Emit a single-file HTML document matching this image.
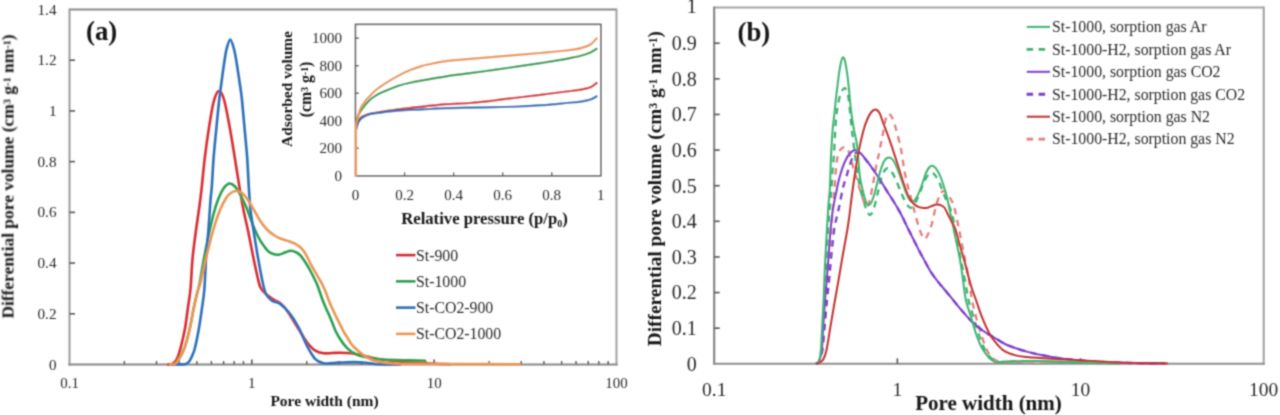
<!DOCTYPE html><html><head><meta charset="utf-8"><style>html,body{margin:0;padding:0;background:#fff;}svg{display:block;} text{stroke-width:0;}</style></head><body>
<svg width="1280" height="415" viewBox="0 0 1280 415">
<defs><filter id="bl" x="0" y="0" width="1280" height="415" filterUnits="userSpaceOnUse"><feConvolveMatrix order="3" kernelMatrix="0.04387 0.12171 0.04387 0.12171 0.33767 0.12171 0.04387 0.12171 0.04387" preserveAlpha="false"/></filter></defs>
<rect width="1280" height="415" fill="#fff"/>
<g filter="url(#bl)">
<path d="M69.5,9.5H616.5" stroke="#898989" stroke-width="2" fill="none"/>
<path d="M616.5,8.5V365.5" stroke="#a2a2a2" stroke-width="2" fill="none"/>
<path d="M69.5,8.5V365.5" stroke="#9c9c9c" stroke-width="2" fill="none"/>
<path d="M68.5,364.5H617.5" stroke="#888" stroke-width="2" fill="none"/>
<text x="56.5" y="369.60" text-anchor="end" font-family="Liberation Serif" font-size="15.2" fill="#2a2a2a" stroke="#2a2a2a">0</text>
<line x1="69.5" y1="313.79" x2="75.0" y2="313.79" stroke="#555" stroke-width="1.6"/>
<text x="56.5" y="318.89" text-anchor="end" font-family="Liberation Serif" font-size="15.2" fill="#2a2a2a" stroke="#2a2a2a">0.2</text>
<line x1="69.5" y1="263.07" x2="75.0" y2="263.07" stroke="#555" stroke-width="1.6"/>
<text x="56.5" y="268.17" text-anchor="end" font-family="Liberation Serif" font-size="15.2" fill="#2a2a2a" stroke="#2a2a2a">0.4</text>
<line x1="69.5" y1="212.36" x2="75.0" y2="212.36" stroke="#555" stroke-width="1.6"/>
<text x="56.5" y="217.46" text-anchor="end" font-family="Liberation Serif" font-size="15.2" fill="#2a2a2a" stroke="#2a2a2a">0.6</text>
<line x1="69.5" y1="161.64" x2="75.0" y2="161.64" stroke="#555" stroke-width="1.6"/>
<text x="56.5" y="166.74" text-anchor="end" font-family="Liberation Serif" font-size="15.2" fill="#2a2a2a" stroke="#2a2a2a">0.8</text>
<line x1="69.5" y1="110.93" x2="75.0" y2="110.93" stroke="#555" stroke-width="1.6"/>
<text x="56.5" y="116.03" text-anchor="end" font-family="Liberation Serif" font-size="15.2" fill="#2a2a2a" stroke="#2a2a2a">1</text>
<line x1="69.5" y1="60.21" x2="75.0" y2="60.21" stroke="#555" stroke-width="1.6"/>
<text x="56.5" y="65.31" text-anchor="end" font-family="Liberation Serif" font-size="15.2" fill="#2a2a2a" stroke="#2a2a2a">1.2</text>
<text x="56.5" y="14.60" text-anchor="end" font-family="Liberation Serif" font-size="15.2" fill="#2a2a2a" stroke="#2a2a2a">1.4</text>
<line x1="124.39" y1="364.5" x2="124.39" y2="361.0" stroke="#555" stroke-width="1.4"/>
<line x1="156.50" y1="364.5" x2="156.50" y2="361.0" stroke="#555" stroke-width="1.4"/>
<line x1="179.28" y1="364.5" x2="179.28" y2="361.0" stroke="#555" stroke-width="1.4"/>
<line x1="196.95" y1="364.5" x2="196.95" y2="361.0" stroke="#555" stroke-width="1.4"/>
<line x1="211.38" y1="364.5" x2="211.38" y2="361.0" stroke="#555" stroke-width="1.4"/>
<line x1="223.59" y1="364.5" x2="223.59" y2="361.0" stroke="#555" stroke-width="1.4"/>
<line x1="234.16" y1="364.5" x2="234.16" y2="361.0" stroke="#555" stroke-width="1.4"/>
<line x1="243.49" y1="364.5" x2="243.49" y2="361.0" stroke="#555" stroke-width="1.4"/>
<line x1="251.83" y1="364.5" x2="251.83" y2="359.5" stroke="#555" stroke-width="1.6"/>
<line x1="306.72" y1="364.5" x2="306.72" y2="361.0" stroke="#555" stroke-width="1.4"/>
<line x1="338.83" y1="364.5" x2="338.83" y2="361.0" stroke="#555" stroke-width="1.4"/>
<line x1="361.61" y1="364.5" x2="361.61" y2="361.0" stroke="#555" stroke-width="1.4"/>
<line x1="379.28" y1="364.5" x2="379.28" y2="361.0" stroke="#555" stroke-width="1.4"/>
<line x1="393.72" y1="364.5" x2="393.72" y2="361.0" stroke="#555" stroke-width="1.4"/>
<line x1="405.92" y1="364.5" x2="405.92" y2="361.0" stroke="#555" stroke-width="1.4"/>
<line x1="416.50" y1="364.5" x2="416.50" y2="361.0" stroke="#555" stroke-width="1.4"/>
<line x1="425.82" y1="364.5" x2="425.82" y2="361.0" stroke="#555" stroke-width="1.4"/>
<line x1="434.17" y1="364.5" x2="434.17" y2="359.5" stroke="#555" stroke-width="1.6"/>
<line x1="489.05" y1="364.5" x2="489.05" y2="361.0" stroke="#555" stroke-width="1.4"/>
<line x1="521.16" y1="364.5" x2="521.16" y2="361.0" stroke="#555" stroke-width="1.4"/>
<line x1="543.94" y1="364.5" x2="543.94" y2="361.0" stroke="#555" stroke-width="1.4"/>
<line x1="561.61" y1="364.5" x2="561.61" y2="361.0" stroke="#555" stroke-width="1.4"/>
<line x1="576.05" y1="364.5" x2="576.05" y2="361.0" stroke="#555" stroke-width="1.4"/>
<line x1="588.26" y1="364.5" x2="588.26" y2="361.0" stroke="#555" stroke-width="1.4"/>
<line x1="598.83" y1="364.5" x2="598.83" y2="361.0" stroke="#555" stroke-width="1.4"/>
<line x1="608.16" y1="364.5" x2="608.16" y2="361.0" stroke="#555" stroke-width="1.4"/>
<text x="69.50" y="388.2" text-anchor="middle" font-family="Liberation Serif" font-size="15" fill="#2a2a2a" stroke="#2a2a2a">0.1</text>
<text x="251.83" y="388.2" text-anchor="middle" font-family="Liberation Serif" font-size="15" fill="#2a2a2a" stroke="#2a2a2a">1</text>
<text x="434.17" y="388.2" text-anchor="middle" font-family="Liberation Serif" font-size="15" fill="#2a2a2a" stroke="#2a2a2a">10</text>
<text x="616.50" y="388.2" text-anchor="middle" font-family="Liberation Serif" font-size="15" fill="#2a2a2a" stroke="#2a2a2a">100</text>
<text x="324.5" y="405.5" text-anchor="middle" font-family="Liberation Serif" font-weight="bold" font-size="15.5" fill="#151515" stroke="#151515">Pore width (nm)</text>
<text transform="translate(13.5,176.5) rotate(-90)" text-anchor="middle" font-family="Liberation Serif" font-weight="bold" font-size="17.4" fill="#151515" stroke="#151515">Differential pore volume (cm<tspan baseline-shift="32%" font-size="60%">3</tspan> g<tspan baseline-shift="32%" font-size="60%">-1</tspan> nm<tspan baseline-shift="32%" font-size="60%">-1</tspan>)</text>
<text x="86" y="40" font-family="Liberation Serif" font-weight="bold" font-size="26.8" fill="#151515" stroke="#151515">(a)</text>
<path d="M168.00,364.50 C168.75,364.38 171.05,364.65 172.50,363.80 C173.95,362.95 175.35,362.07 176.70,359.40 C178.05,356.73 179.22,352.95 180.60,347.80 C181.98,342.65 183.82,334.92 185.00,328.50 C186.18,322.08 186.78,315.88 187.70,309.30 C188.62,302.72 189.68,297.58 190.50,289.00 C191.32,280.42 191.65,267.82 192.60,257.80 C193.55,247.78 195.03,237.70 196.20,228.90 C197.37,220.10 198.67,212.02 199.60,205.00 C200.53,197.98 200.93,194.67 201.80,186.80 C202.67,178.93 203.63,167.45 204.80,157.80 C205.97,148.15 207.33,138.20 208.80,128.90 C210.27,119.60 211.93,108.32 213.60,102.00 C215.27,95.68 217.07,91.42 218.80,91.00 C220.53,90.58 222.13,93.18 224.00,99.50 C225.87,105.82 228.20,119.18 230.00,128.90 C231.80,138.62 233.23,148.15 234.80,157.80 C236.37,167.45 237.95,178.10 239.40,186.80 C240.85,195.50 242.02,202.47 243.50,210.00 C244.98,217.53 246.65,224.03 248.30,232.00 C249.95,239.97 251.90,250.47 253.40,257.80 C254.90,265.13 256.12,271.05 257.30,276.00 C258.48,280.95 259.13,284.58 260.50,287.50 C261.87,290.42 263.92,291.92 265.50,293.50 C267.08,295.08 268.50,295.92 270.00,297.00 C271.50,298.08 272.83,299.00 274.50,300.00 C276.17,301.00 278.25,301.67 280.00,303.00 C281.75,304.33 283.33,305.97 285.00,308.00 C286.67,310.03 287.77,311.75 290.00,315.20 C292.23,318.65 295.58,324.20 298.40,328.70 C301.22,333.20 304.08,338.55 306.90,342.20 C309.72,345.85 312.48,348.77 315.30,350.60 C318.12,352.43 321.02,352.80 323.80,353.20 C326.58,353.60 329.20,353.08 332.00,353.00 C334.80,352.92 337.47,352.67 340.60,352.70 C343.73,352.73 347.42,352.83 350.80,353.20 C354.18,353.57 356.97,354.07 360.90,354.90 C364.83,355.73 369.33,357.22 374.40,358.20 C379.47,359.18 385.37,360.10 391.30,360.80 C397.23,361.50 403.55,361.95 410.00,362.40 C416.45,362.85 423.33,363.20 430.00,363.50 C436.67,363.80 446.67,364.08 450.00,364.20" fill="none" stroke="#d82c30" stroke-width="2.6" stroke-linejoin="round" stroke-linecap="round"/>
<path d="M170.00,364.50 C170.80,364.42 173.35,364.85 174.80,364.00 C176.25,363.15 177.08,362.10 178.70,359.40 C180.32,356.70 182.65,352.95 184.50,347.80 C186.35,342.65 188.30,334.92 189.80,328.50 C191.30,322.08 192.22,315.38 193.50,309.30 C194.78,303.22 196.50,296.22 197.50,292.00 C198.50,287.78 198.40,289.70 199.50,284.00 C200.60,278.30 202.60,265.80 204.10,257.80 C205.60,249.80 206.95,243.22 208.50,236.00 C210.05,228.78 211.77,220.67 213.40,214.50 C215.03,208.33 216.62,203.33 218.30,199.00 C219.98,194.67 221.67,191.08 223.50,188.50 C225.33,185.92 227.38,183.83 229.30,183.50 C231.22,183.17 233.13,184.58 235.00,186.50 C236.87,188.42 238.53,191.33 240.50,195.00 C242.47,198.67 244.67,203.33 246.80,208.50 C248.93,213.67 251.38,221.25 253.30,226.00 C255.22,230.75 256.68,233.87 258.30,237.00 C259.92,240.13 261.30,242.38 263.00,244.80 C264.70,247.22 266.67,249.92 268.50,251.50 C270.33,253.08 272.17,253.80 274.00,254.30 C275.83,254.80 277.67,254.80 279.50,254.50 C281.33,254.20 283.15,253.12 285.00,252.50 C286.85,251.88 288.77,250.85 290.60,250.80 C292.43,250.75 294.43,251.50 296.00,252.20 C297.57,252.90 298.75,253.78 300.00,255.00 C301.25,256.22 302.37,257.92 303.50,259.50 C304.63,261.08 305.63,262.58 306.80,264.50 C307.97,266.42 309.30,268.75 310.50,271.00 C311.70,273.25 312.92,275.78 314.00,278.00 C315.08,280.22 316.03,281.97 317.00,284.30 C317.97,286.63 318.90,289.47 319.80,292.00 C320.70,294.53 321.40,296.87 322.40,299.50 C323.40,302.13 324.63,305.10 325.80,307.80 C326.97,310.50 328.27,313.08 329.40,315.70 C330.53,318.32 331.55,320.90 332.60,323.50 C333.65,326.10 334.55,328.88 335.70,331.30 C336.85,333.72 338.20,335.90 339.50,338.00 C340.80,340.10 342.17,342.18 343.50,343.90 C344.83,345.62 346.20,347.00 347.50,348.30 C348.80,349.60 349.35,350.48 351.30,351.70 C353.25,352.92 356.08,354.55 359.20,355.60 C362.32,356.65 366.07,357.35 370.00,358.00 C373.93,358.65 376.13,359.10 382.80,359.50 C389.47,359.90 402.97,360.18 410.00,360.40 C417.03,360.62 422.50,360.73 425.00,360.80" fill="none" stroke="#2a9f50" stroke-width="2.6" stroke-linejoin="round" stroke-linecap="round"/>
<path d="M172.00,364.50 C173.33,364.48 177.67,364.48 180.00,364.40 C182.33,364.32 184.42,364.57 186.00,364.00 C187.58,363.43 188.42,362.50 189.50,361.00 C190.58,359.50 191.58,357.20 192.50,355.00 C193.42,352.80 193.93,352.22 195.00,347.80 C196.07,343.38 197.77,334.92 198.90,328.50 C200.03,322.08 200.90,315.72 201.80,309.30 C202.70,302.88 203.58,298.58 204.30,290.00 C205.02,281.42 205.40,267.98 206.10,257.80 C206.80,247.62 207.77,238.53 208.50,228.90 C209.23,219.27 209.95,207.02 210.50,200.00 C211.05,192.98 211.28,193.83 211.80,186.80 C212.32,179.77 212.85,167.45 213.60,157.80 C214.35,148.15 215.37,138.53 216.30,128.90 C217.23,119.27 218.28,108.15 219.20,100.00 C220.12,91.85 220.95,86.33 221.80,80.00 C222.65,73.67 223.50,67.17 224.30,62.00 C225.10,56.83 225.62,52.75 226.60,49.00 C227.58,45.25 228.97,39.50 230.20,39.50 C231.43,39.50 232.95,45.25 234.00,49.00 C235.05,52.75 235.75,57.67 236.50,62.00 C237.25,66.33 237.85,70.70 238.50,75.00 C239.15,79.30 239.82,83.63 240.40,87.80 C240.98,91.97 241.30,93.15 242.00,100.00 C242.70,106.85 243.73,119.27 244.60,128.90 C245.47,138.53 246.50,148.15 247.20,157.80 C247.90,167.45 248.25,178.10 248.80,186.80 C249.35,195.50 249.75,202.98 250.50,210.00 C251.25,217.02 252.05,220.93 253.30,228.90 C254.55,236.87 256.38,248.62 258.00,257.80 C259.62,266.98 261.67,277.97 263.00,284.00 C264.33,290.03 264.57,291.25 266.00,294.00 C267.43,296.75 269.23,298.85 271.60,300.50 C273.97,302.15 277.32,301.90 280.20,303.90 C283.08,305.90 285.87,308.65 288.90,312.50 C291.93,316.35 295.40,321.48 298.40,327.00 C301.40,332.52 304.08,340.25 306.90,345.60 C309.72,350.95 312.48,356.15 315.30,359.10 C318.12,362.05 321.02,362.63 323.80,363.30 C326.58,363.97 329.20,363.22 332.00,363.10 C334.80,362.98 336.92,362.77 340.60,362.60 C344.28,362.43 349.87,362.07 354.10,362.10 C358.33,362.13 362.05,362.45 366.00,362.80 C369.95,363.15 372.13,363.92 377.80,364.20 C383.47,364.48 396.30,364.45 400.00,364.50" fill="none" stroke="#2c70b8" stroke-width="2.6" stroke-linejoin="round" stroke-linecap="round"/>
<path d="M170.00,364.50 C170.80,364.42 173.35,364.85 174.80,364.00 C176.25,363.15 177.08,362.10 178.70,359.40 C180.32,356.70 182.65,352.95 184.50,347.80 C186.35,342.65 188.30,334.92 189.80,328.50 C191.30,322.08 192.30,315.22 193.50,309.30 C194.70,303.38 195.85,297.38 197.00,293.00 C198.15,288.62 198.88,288.87 200.40,283.00 C201.92,277.13 203.93,266.72 206.10,257.80 C208.27,248.88 211.08,237.47 213.40,229.50 C215.72,221.53 217.82,215.33 220.00,210.00 C222.18,204.67 224.58,200.42 226.50,197.50 C228.42,194.58 229.83,193.58 231.50,192.50 C233.17,191.42 234.75,190.92 236.50,191.00 C238.25,191.08 240.08,191.50 242.00,193.00 C243.92,194.50 245.92,197.00 248.00,200.00 C250.08,203.00 252.33,207.33 254.50,211.00 C256.67,214.67 258.92,218.92 261.00,222.00 C263.08,225.08 264.75,227.25 267.00,229.50 C269.25,231.75 272.25,234.00 274.50,235.50 C276.75,237.00 278.10,237.53 280.50,238.50 C282.90,239.47 286.48,240.45 288.90,241.30 C291.32,242.15 293.15,242.65 295.00,243.60 C296.85,244.55 298.50,245.68 300.00,247.00 C301.50,248.32 302.67,249.58 304.00,251.50 C305.33,253.42 306.70,256.05 308.00,258.50 C309.30,260.95 310.30,263.40 311.80,266.20 C313.30,269.00 315.30,272.37 317.00,275.30 C318.70,278.23 320.53,280.98 322.00,283.80 C323.47,286.62 324.70,289.50 325.80,292.20 C326.90,294.90 327.57,297.40 328.60,300.00 C329.63,302.60 330.82,305.18 332.00,307.80 C333.18,310.42 334.43,313.08 335.70,315.70 C336.97,318.32 338.30,320.90 339.60,323.50 C340.90,326.10 342.20,328.95 343.50,331.30 C344.80,333.65 346.10,335.50 347.40,337.60 C348.70,339.70 350.00,342.12 351.30,343.90 C352.60,345.68 353.88,347.00 355.20,348.30 C356.52,349.60 357.90,350.63 359.20,351.70 C360.50,352.77 361.70,353.78 363.00,354.70 C364.30,355.62 365.10,356.18 367.00,357.20 C368.90,358.22 370.35,359.80 374.40,360.80 C378.45,361.80 385.37,362.70 391.30,363.20 C397.23,363.70 400.22,363.67 410.00,363.80 C419.78,363.93 431.67,363.93 450.00,364.00 C468.33,364.07 508.33,364.17 520.00,364.20" fill="none" stroke="#ea9653" stroke-width="2.6" stroke-linejoin="round" stroke-linecap="round"/>
<rect x="355.5" y="24.4" width="245.29999999999995" height="151.4" fill="#fff" stroke="#555" stroke-width="1.5"/>
<text x="342" y="180.90" text-anchor="end" font-family="Liberation Serif" font-size="15" fill="#2a2a2a" stroke="#2a2a2a">0</text>
<line x1="355.5" y1="148.27" x2="359.0" y2="148.27" stroke="#444" stroke-width="1.3"/>
<text x="342" y="153.37" text-anchor="end" font-family="Liberation Serif" font-size="15" fill="#2a2a2a" stroke="#2a2a2a">200</text>
<line x1="355.5" y1="120.75" x2="359.0" y2="120.75" stroke="#444" stroke-width="1.3"/>
<text x="342" y="125.85" text-anchor="end" font-family="Liberation Serif" font-size="15" fill="#2a2a2a" stroke="#2a2a2a">400</text>
<line x1="355.5" y1="93.22" x2="359.0" y2="93.22" stroke="#444" stroke-width="1.3"/>
<text x="342" y="98.32" text-anchor="end" font-family="Liberation Serif" font-size="15" fill="#2a2a2a" stroke="#2a2a2a">600</text>
<line x1="355.5" y1="65.69" x2="359.0" y2="65.69" stroke="#444" stroke-width="1.3"/>
<text x="342" y="70.79" text-anchor="end" font-family="Liberation Serif" font-size="15" fill="#2a2a2a" stroke="#2a2a2a">800</text>
<line x1="355.5" y1="38.16" x2="359.0" y2="38.16" stroke="#444" stroke-width="1.3"/>
<text x="342" y="43.26" text-anchor="end" font-family="Liberation Serif" font-size="15" fill="#2a2a2a" stroke="#2a2a2a">1000</text>
<text x="355.50" y="199.7" text-anchor="middle" font-family="Liberation Serif" font-size="15" fill="#2a2a2a" stroke="#2a2a2a">0</text>
<line x1="404.56" y1="175.8" x2="404.56" y2="172.3" stroke="#444" stroke-width="1.3"/>
<text x="404.56" y="199.7" text-anchor="middle" font-family="Liberation Serif" font-size="15" fill="#2a2a2a" stroke="#2a2a2a">0.2</text>
<line x1="453.62" y1="175.8" x2="453.62" y2="172.3" stroke="#444" stroke-width="1.3"/>
<text x="453.62" y="199.7" text-anchor="middle" font-family="Liberation Serif" font-size="15" fill="#2a2a2a" stroke="#2a2a2a">0.4</text>
<line x1="502.68" y1="175.8" x2="502.68" y2="172.3" stroke="#444" stroke-width="1.3"/>
<text x="502.68" y="199.7" text-anchor="middle" font-family="Liberation Serif" font-size="15" fill="#2a2a2a" stroke="#2a2a2a">0.6</text>
<line x1="551.74" y1="175.8" x2="551.74" y2="172.3" stroke="#444" stroke-width="1.3"/>
<text x="551.74" y="199.7" text-anchor="middle" font-family="Liberation Serif" font-size="15" fill="#2a2a2a" stroke="#2a2a2a">0.8</text>
<text x="600.80" y="199.7" text-anchor="middle" font-family="Liberation Serif" font-size="15" fill="#2a2a2a" stroke="#2a2a2a">1</text>
<text x="484.5" y="223.5" text-anchor="middle" font-family="Liberation Serif" font-weight="bold" font-size="16.7" fill="#151515" stroke="#151515">Relative pressure (p/p<tspan baseline-shift="-2.5" font-size="60%">0</tspan>)</text>
<text transform="translate(292,89) rotate(-90)" text-anchor="middle" font-family="Liberation Serif" font-weight="bold" font-size="15.4" fill="#151515" stroke="#151515">Adsorbed volume</text>
<text transform="translate(310.5,89.5) rotate(-90)" text-anchor="middle" font-family="Liberation Serif" font-weight="bold" font-size="15.9" fill="#151515" stroke="#151515">(cm<tspan baseline-shift="32%" font-size="60%">3</tspan> g<tspan baseline-shift="32%" font-size="60%">-1</tspan>)</text>
<path d="M356.20,128.00 C356.58,126.83 357.53,122.88 358.50,121.00 C359.47,119.12 360.42,117.83 362.00,116.70 C363.58,115.57 366.00,114.82 368.00,114.20 C370.00,113.58 368.98,113.80 374.00,113.00 C379.02,112.20 390.07,110.47 398.10,109.40 C406.13,108.33 414.17,107.48 422.20,106.60 C430.23,105.72 438.33,104.70 446.30,104.10 C454.27,103.50 462.03,103.60 470.00,103.00 C477.97,102.40 486.07,101.42 494.10,100.50 C502.13,99.58 510.17,98.48 518.20,97.50 C526.23,96.52 534.27,95.60 542.30,94.60 C550.33,93.60 559.97,92.33 566.40,91.50 C572.83,90.67 576.88,90.30 580.90,89.60 C584.92,88.90 587.88,88.40 590.50,87.30 C593.12,86.20 595.58,83.72 596.60,83.00" fill="none" stroke="#d82c30" stroke-width="2.2" stroke-linejoin="round" stroke-linecap="round"/>
<path d="M356.20,127.00 C356.48,125.25 356.90,119.52 357.90,116.50 C358.90,113.48 360.27,111.62 362.20,108.90 C364.13,106.18 367.20,102.43 369.50,100.20 C371.80,97.97 373.60,96.93 376.00,95.50 C378.40,94.07 380.17,93.22 383.90,91.60 C387.63,89.98 393.58,87.37 398.40,85.80 C403.22,84.23 407.98,83.23 412.80,82.20 C417.62,81.17 421.72,80.58 427.30,79.60 C432.88,78.62 439.18,77.37 446.30,76.30 C453.42,75.23 462.03,74.27 470.00,73.20 C477.97,72.13 486.07,71.03 494.10,69.90 C502.13,68.77 510.17,67.58 518.20,66.40 C526.23,65.22 534.27,64.07 542.30,62.80 C550.33,61.53 559.97,59.97 566.40,58.80 C572.83,57.63 576.88,56.85 580.90,55.80 C584.92,54.75 587.88,53.67 590.50,52.50 C593.12,51.33 595.58,49.42 596.60,48.80" fill="none" stroke="#2a9f50" stroke-width="2.2" stroke-linejoin="round" stroke-linecap="round"/>
<path d="M356.20,129.00 C356.58,127.83 357.53,123.85 358.50,122.00 C359.47,120.15 360.42,119.10 362.00,117.90 C363.58,116.70 366.00,115.55 368.00,114.80 C370.00,114.05 368.98,114.10 374.00,113.40 C379.02,112.70 390.07,111.27 398.10,110.60 C406.13,109.93 414.17,109.80 422.20,109.40 C430.23,109.00 438.33,108.50 446.30,108.20 C454.27,107.90 462.03,107.77 470.00,107.60 C477.97,107.43 486.07,107.38 494.10,107.20 C502.13,107.02 510.17,106.83 518.20,106.50 C526.23,106.17 534.27,105.78 542.30,105.20 C550.33,104.62 559.97,103.60 566.40,103.00 C572.83,102.40 576.88,102.18 580.90,101.60 C584.92,101.02 587.88,100.38 590.50,99.50 C593.12,98.62 595.58,96.83 596.60,96.30" fill="none" stroke="#2c70b8" stroke-width="2.2" stroke-linejoin="round" stroke-linecap="round"/>
<path d="M356.00,175.80 C356.00,171.50 355.97,158.47 356.00,150.00 C356.03,141.53 355.78,130.83 356.20,125.00 C356.62,119.17 357.53,118.25 358.50,115.00 C359.47,111.75 359.42,109.37 362.00,105.50 C364.58,101.63 369.98,95.57 374.00,91.80 C378.02,88.03 382.08,85.55 386.10,82.90 C390.12,80.25 394.08,78.03 398.10,75.90 C402.12,73.77 406.18,71.77 410.20,70.10 C414.22,68.43 418.18,67.05 422.20,65.90 C426.22,64.75 430.28,64.00 434.30,63.20 C438.32,62.40 442.30,61.65 446.30,61.10 C450.30,60.55 454.35,60.27 458.30,59.90 C462.25,59.53 464.03,59.42 470.00,58.90 C475.97,58.38 486.07,57.48 494.10,56.80 C502.13,56.12 510.17,55.47 518.20,54.80 C526.23,54.13 534.27,53.52 542.30,52.80 C550.33,52.08 559.97,51.28 566.40,50.50 C572.83,49.72 576.88,49.10 580.90,48.10 C584.92,47.10 587.88,46.12 590.50,44.50 C593.12,42.88 595.58,39.42 596.60,38.40" fill="none" stroke="#ea9653" stroke-width="2.2" stroke-linejoin="round" stroke-linecap="round"/>
<line x1="396" y1="255.10" x2="415.5" y2="255.10" stroke="#d82c30" stroke-width="2.6"/>
<text x="416" y="260.50" font-family="Liberation Serif" font-size="15.8" fill="#2a2a2a" stroke="#2a2a2a">St-900</text>
<line x1="396" y1="281.37" x2="415.5" y2="281.37" stroke="#2a9f50" stroke-width="2.6"/>
<text x="416" y="286.77" font-family="Liberation Serif" font-size="15.8" fill="#2a2a2a" stroke="#2a2a2a">St-1000</text>
<line x1="396" y1="307.64" x2="415.5" y2="307.64" stroke="#2c70b8" stroke-width="2.6"/>
<text x="416" y="313.04" font-family="Liberation Serif" font-size="15.8" fill="#2a2a2a" stroke="#2a2a2a">St-CO2-900</text>
<line x1="396" y1="333.91" x2="415.5" y2="333.91" stroke="#ea9653" stroke-width="2.6"/>
<text x="416" y="339.31" font-family="Liberation Serif" font-size="15.8" fill="#2a2a2a" stroke="#2a2a2a">St-CO2-1000</text>
<path d="M714.2,7.6H1263.7" stroke="#a6a6a6" stroke-width="2" fill="none"/>
<path d="M1263.7,6.6V364.8" stroke="#a0a0a0" stroke-width="2" fill="none"/>
<path d="M714.2,6.6V364.8" stroke="#7e7e7e" stroke-width="2" fill="none"/>
<path d="M713.2,363.8H1264.7" stroke="#8e8e8e" stroke-width="2" fill="none"/>
<text x="696.8" y="370.60" text-anchor="end" font-family="Liberation Serif" font-size="20" fill="#2a2a2a" stroke="#2a2a2a">0</text>
<line x1="714.2" y1="328.18" x2="719.7" y2="328.18" stroke="#555" stroke-width="1.6"/>
<text x="696.8" y="334.98" text-anchor="end" font-family="Liberation Serif" font-size="20" fill="#2a2a2a" stroke="#2a2a2a">0.1</text>
<line x1="714.2" y1="292.56" x2="719.7" y2="292.56" stroke="#555" stroke-width="1.6"/>
<text x="696.8" y="299.36" text-anchor="end" font-family="Liberation Serif" font-size="20" fill="#2a2a2a" stroke="#2a2a2a">0.2</text>
<line x1="714.2" y1="256.94" x2="719.7" y2="256.94" stroke="#555" stroke-width="1.6"/>
<text x="696.8" y="263.74" text-anchor="end" font-family="Liberation Serif" font-size="20" fill="#2a2a2a" stroke="#2a2a2a">0.3</text>
<line x1="714.2" y1="221.32" x2="719.7" y2="221.32" stroke="#555" stroke-width="1.6"/>
<text x="696.8" y="228.12" text-anchor="end" font-family="Liberation Serif" font-size="20" fill="#2a2a2a" stroke="#2a2a2a">0.4</text>
<line x1="714.2" y1="185.70" x2="719.7" y2="185.70" stroke="#555" stroke-width="1.6"/>
<text x="696.8" y="192.50" text-anchor="end" font-family="Liberation Serif" font-size="20" fill="#2a2a2a" stroke="#2a2a2a">0.5</text>
<line x1="714.2" y1="150.08" x2="719.7" y2="150.08" stroke="#555" stroke-width="1.6"/>
<text x="696.8" y="156.88" text-anchor="end" font-family="Liberation Serif" font-size="20" fill="#2a2a2a" stroke="#2a2a2a">0.6</text>
<line x1="714.2" y1="114.46" x2="719.7" y2="114.46" stroke="#555" stroke-width="1.6"/>
<text x="696.8" y="121.26" text-anchor="end" font-family="Liberation Serif" font-size="20" fill="#2a2a2a" stroke="#2a2a2a">0.7</text>
<line x1="714.2" y1="78.84" x2="719.7" y2="78.84" stroke="#555" stroke-width="1.6"/>
<text x="696.8" y="85.64" text-anchor="end" font-family="Liberation Serif" font-size="20" fill="#2a2a2a" stroke="#2a2a2a">0.8</text>
<line x1="714.2" y1="43.22" x2="719.7" y2="43.22" stroke="#555" stroke-width="1.6"/>
<text x="696.8" y="50.02" text-anchor="end" font-family="Liberation Serif" font-size="20" fill="#2a2a2a" stroke="#2a2a2a">0.9</text>
<text x="696.8" y="13.40" text-anchor="end" font-family="Liberation Serif" font-size="20" fill="#2a2a2a" stroke="#2a2a2a">1</text>
<line x1="897.37" y1="363.8" x2="897.37" y2="358.3" stroke="#555" stroke-width="1.6"/>
<line x1="1080.53" y1="363.8" x2="1080.53" y2="358.3" stroke="#555" stroke-width="1.6"/>
<text x="714.20" y="395.8" text-anchor="middle" font-family="Liberation Serif" font-size="19.5" fill="#2a2a2a" stroke="#2a2a2a">0.1</text>
<text x="897.37" y="395.8" text-anchor="middle" font-family="Liberation Serif" font-size="19.5" fill="#2a2a2a" stroke="#2a2a2a">1</text>
<text x="1080.53" y="395.8" text-anchor="middle" font-family="Liberation Serif" font-size="19.5" fill="#2a2a2a" stroke="#2a2a2a">10</text>
<text x="1263.70" y="395.8" text-anchor="middle" font-family="Liberation Serif" font-size="19.5" fill="#2a2a2a" stroke="#2a2a2a">100</text>
<text x="988.5" y="410" text-anchor="middle" font-family="Liberation Serif" font-weight="bold" font-size="21" fill="#151515" stroke="#151515">Pore width (nm)</text>
<text transform="translate(661,188.6) rotate(-90)" text-anchor="middle" font-family="Liberation Serif" font-weight="bold" font-size="19.3" fill="#151515" stroke="#151515">Differential pore volume (cm<tspan baseline-shift="32%" font-size="60%">3</tspan> g<tspan baseline-shift="32%" font-size="60%">-1</tspan> nm<tspan baseline-shift="32%" font-size="60%">-1</tspan>)</text>
<text x="737.5" y="41" font-family="Liberation Serif" font-weight="bold" font-size="26.8" fill="#151515" stroke="#151515">(b)</text>
<path d="M816.00,363.80 C816.50,363.50 818.00,364.13 819.00,362.00 C820.00,359.87 821.08,357.00 822.00,351.00 C822.92,345.00 823.67,336.17 824.50,326.00 C825.33,315.83 826.30,301.00 827.00,290.00 C827.70,279.00 828.07,268.93 828.70,260.00 C829.33,251.07 830.17,244.35 830.80,236.40 C831.43,228.45 831.88,220.33 832.50,212.30 C833.12,204.27 833.85,196.23 834.50,188.20 C835.15,180.17 835.65,170.13 836.40,164.10 C837.15,158.07 837.90,154.77 839.00,152.00 C840.10,149.23 841.75,148.17 843.00,147.50 C844.25,146.83 845.52,147.25 846.50,148.00 C847.48,148.75 847.70,148.52 848.90,152.00 C850.10,155.48 852.28,164.07 853.70,168.90 C855.12,173.73 856.18,176.98 857.40,181.00 C858.62,185.02 859.90,189.50 861.00,193.00 C862.10,196.50 863.03,199.75 864.00,202.00 C864.97,204.25 865.88,206.67 866.80,206.50 C867.72,206.33 868.50,204.58 869.50,201.00 C870.50,197.42 871.80,190.17 872.80,185.00 C873.80,179.83 874.80,173.83 875.50,170.00 C876.20,166.17 876.47,164.50 877.00,162.00 C877.53,159.50 878.03,158.17 878.70,155.00 C879.37,151.83 880.28,146.60 881.00,143.00 C881.72,139.40 882.25,137.23 883.00,133.40 C883.75,129.57 884.60,123.25 885.50,120.00 C886.40,116.75 887.32,114.32 888.40,113.90 C889.48,113.48 890.73,114.98 892.00,117.50 C893.27,120.02 894.60,124.18 896.00,129.00 C897.40,133.82 899.30,141.40 900.40,146.40 C901.50,151.40 901.88,154.67 902.60,159.00 C903.32,163.33 903.88,168.07 904.70,172.40 C905.52,176.73 906.53,181.07 907.50,185.00 C908.47,188.93 909.38,191.80 910.50,196.00 C911.62,200.20 912.87,205.20 914.20,210.20 C915.53,215.20 917.08,221.58 918.50,226.00 C919.92,230.42 921.53,234.62 922.70,236.70 C923.87,238.78 924.45,239.28 925.50,238.50 C926.55,237.72 927.87,234.70 929.00,232.00 C930.13,229.30 931.22,226.30 932.30,222.30 C933.38,218.30 934.30,212.42 935.50,208.00 C936.70,203.58 938.23,198.63 939.50,195.80 C940.77,192.97 941.85,191.30 943.10,191.00 C944.35,190.70 945.58,192.40 947.00,194.00 C948.42,195.60 950.27,197.93 951.60,200.60 C952.93,203.27 953.78,205.28 955.00,210.00 C956.22,214.72 957.45,221.73 958.90,228.90 C960.35,236.07 962.02,244.48 963.70,253.00 C965.38,261.52 967.62,272.17 969.00,280.00 C970.38,287.83 970.83,293.85 972.00,300.00 C973.17,306.15 974.50,311.28 976.00,316.90 C977.50,322.52 979.17,328.08 981.00,333.70 C982.83,339.32 985.00,346.47 987.00,350.60 C989.00,354.73 990.83,356.63 993.00,358.50 C995.17,360.37 997.17,361.22 1000.00,361.80 C1002.83,362.38 1003.33,362.05 1010.00,362.00 C1016.67,361.95 1030.00,361.50 1040.00,361.50 C1050.00,361.50 1060.00,361.78 1070.00,362.00 C1080.00,362.22 1090.00,362.60 1100.00,362.80 C1110.00,363.00 1118.67,363.07 1130.00,363.20 C1141.33,363.33 1161.67,363.53 1168.00,363.60" fill="none" stroke="#e47b7b" stroke-width="2.3" stroke-dasharray="6.5,5.5" stroke-linejoin="round"/>
<path d="M816.00,363.80 C816.47,363.50 817.77,364.13 818.80,362.00 C819.83,359.87 821.25,356.93 822.20,351.00 C823.15,345.07 823.70,334.90 824.50,326.40 C825.30,317.90 826.20,308.07 827.00,300.00 C827.80,291.93 828.55,285.67 829.30,278.00 C830.05,270.33 830.70,262.00 831.50,254.00 C832.30,246.00 833.27,236.00 834.10,230.00 C834.93,224.00 835.63,222.00 836.50,218.00 C837.37,214.00 838.23,210.97 839.30,206.00 C840.37,201.03 841.70,193.18 842.90,188.20 C844.10,183.22 845.30,180.12 846.50,176.10 C847.70,172.08 848.93,167.53 850.10,164.10 C851.27,160.67 852.35,157.43 853.50,155.50 C854.65,153.57 855.75,152.75 857.00,152.50 C858.25,152.25 859.53,152.78 861.00,154.00 C862.47,155.22 864.13,157.72 865.80,159.80 C867.47,161.88 869.18,164.02 871.00,166.50 C872.82,168.98 874.87,171.95 876.70,174.70 C878.53,177.45 880.20,180.12 882.00,183.00 C883.80,185.88 885.67,189.08 887.50,192.00 C889.33,194.92 891.18,197.60 893.00,200.50 C894.82,203.40 896.78,206.57 898.40,209.40 C900.02,212.23 901.27,214.65 902.70,217.50 C904.13,220.35 905.28,223.00 907.00,226.50 C908.72,230.00 910.98,234.48 913.00,238.50 C915.02,242.52 917.10,246.77 919.10,250.60 C921.10,254.43 923.00,257.88 925.00,261.50 C927.00,265.12 929.10,269.13 931.10,272.30 C933.10,275.47 934.98,277.88 937.00,280.50 C939.02,283.12 940.97,285.32 943.20,288.00 C945.43,290.68 947.32,292.87 950.40,296.60 C953.48,300.33 958.02,306.12 961.70,310.40 C965.38,314.68 968.88,318.87 972.50,322.30 C976.12,325.73 979.78,328.47 983.40,331.00 C987.02,333.53 990.58,335.33 994.20,337.50 C997.82,339.67 1001.48,342.20 1005.10,344.00 C1008.72,345.80 1012.28,347.03 1015.90,348.30 C1019.52,349.57 1022.78,350.52 1026.80,351.60 C1030.82,352.68 1034.47,353.70 1040.00,354.80 C1045.53,355.90 1053.33,357.28 1060.00,358.20 C1066.67,359.12 1073.33,359.70 1080.00,360.30 C1086.67,360.90 1091.67,361.35 1100.00,361.80 C1108.33,362.25 1119.17,362.70 1130.00,363.00 C1140.83,363.30 1159.17,363.50 1165.00,363.60" fill="none" stroke="#7a3fc6" stroke-width="2.3" stroke-dasharray="6.5,5.5" stroke-linejoin="round"/>
<path d="M816.00,363.80 C816.47,363.50 817.93,364.13 818.80,362.00 C819.67,359.87 820.53,356.33 821.20,351.00 C821.87,345.67 822.25,338.50 822.80,330.00 C823.35,321.50 823.97,310.83 824.50,300.00 C825.03,289.17 825.42,276.67 826.00,265.00 C826.58,253.33 827.33,240.00 828.00,230.00 C828.67,220.00 829.40,212.03 830.00,205.00 C830.60,197.97 831.17,193.63 831.60,187.80 C832.03,181.97 832.22,175.35 832.60,170.00 C832.98,164.65 833.50,161.53 833.90,155.70 C834.30,149.87 834.62,141.43 835.00,135.00 C835.38,128.57 835.70,122.10 836.20,117.10 C836.70,112.10 837.28,108.85 838.00,105.00 C838.72,101.15 839.42,96.80 840.50,94.00 C841.58,91.20 843.33,88.37 844.50,88.20 C845.67,88.03 846.72,90.53 847.50,93.00 C848.28,95.47 848.70,98.98 849.20,103.00 C849.70,107.02 849.95,111.77 850.50,117.10 C851.05,122.43 851.73,128.57 852.50,135.00 C853.27,141.43 854.18,148.70 855.10,155.70 C856.02,162.70 857.10,171.28 858.00,177.00 C858.90,182.72 859.58,186.17 860.50,190.00 C861.42,193.83 862.50,196.67 863.50,200.00 C864.50,203.33 865.38,207.50 866.50,210.00 C867.62,212.50 868.95,215.33 870.20,215.00 C871.45,214.67 872.70,211.83 874.00,208.00 C875.30,204.17 876.67,197.33 878.00,192.00 C879.33,186.67 880.58,179.92 882.00,176.00 C883.42,172.08 885.00,169.33 886.50,168.50 C888.00,167.67 889.42,169.08 891.00,171.00 C892.58,172.92 894.33,176.42 896.00,180.00 C897.67,183.58 899.33,188.67 901.00,192.50 C902.67,196.33 904.40,200.45 906.00,203.00 C907.60,205.55 909.10,207.72 910.60,207.80 C912.10,207.88 913.43,206.13 915.00,203.50 C916.57,200.87 918.33,195.92 920.00,192.00 C921.67,188.08 923.50,183.00 925.00,180.00 C926.50,177.00 927.98,175.18 929.00,174.00 C930.02,172.82 930.18,172.82 931.10,172.90 C932.02,172.98 933.18,172.98 934.50,174.50 C935.82,176.02 937.25,178.25 939.00,182.00 C940.75,185.75 942.88,191.83 945.00,197.00 C947.12,202.17 949.87,206.83 951.70,213.00 C953.53,219.17 954.40,225.83 956.00,234.00 C957.60,242.17 959.63,253.33 961.30,262.00 C962.97,270.67 964.80,279.67 966.00,286.00 C967.20,292.33 967.25,294.83 968.50,300.00 C969.75,305.17 971.83,311.38 973.50,317.00 C975.17,322.62 976.53,328.10 978.50,333.70 C980.47,339.30 983.05,346.38 985.30,350.60 C987.55,354.82 989.55,357.07 992.00,359.00 C994.45,360.93 997.00,361.78 1000.00,362.20 C1003.00,362.62 1003.33,361.67 1010.00,361.50 C1016.67,361.33 1028.33,361.02 1040.00,361.20 C1051.67,361.38 1066.67,362.22 1080.00,362.60 C1093.33,362.98 1113.33,363.35 1120.00,363.50" fill="none" stroke="#3cb371" stroke-width="2.3" stroke-dasharray="6.5,5.5" stroke-linejoin="round"/>
<path d="M816.00,363.80 C816.47,363.50 817.85,364.13 818.80,362.00 C819.75,359.87 820.95,356.93 821.70,351.00 C822.45,345.07 822.75,334.90 823.30,326.40 C823.85,317.90 824.40,308.07 825.00,300.00 C825.60,291.93 826.28,285.67 826.90,278.00 C827.52,270.33 828.10,262.00 828.70,254.00 C829.30,246.00 829.87,236.95 830.50,230.00 C831.13,223.05 831.82,217.30 832.50,212.30 C833.18,207.30 833.97,203.38 834.60,200.00 C835.23,196.62 835.72,194.83 836.30,192.00 C836.88,189.17 837.40,186.00 838.10,183.00 C838.80,180.00 839.50,177.25 840.50,174.00 C841.50,170.75 842.68,166.75 844.10,163.50 C845.52,160.25 847.20,156.73 849.00,154.50 C850.80,152.27 853.07,150.38 854.90,150.10 C856.73,149.82 858.18,151.23 860.00,152.80 C861.82,154.37 863.97,157.22 865.80,159.50 C867.63,161.78 869.18,163.97 871.00,166.50 C872.82,169.03 874.87,171.95 876.70,174.70 C878.53,177.45 880.20,180.12 882.00,183.00 C883.80,185.88 885.67,189.08 887.50,192.00 C889.33,194.92 891.18,197.60 893.00,200.50 C894.82,203.40 896.78,206.57 898.40,209.40 C900.02,212.23 901.27,214.65 902.70,217.50 C904.13,220.35 905.28,223.00 907.00,226.50 C908.72,230.00 910.98,234.48 913.00,238.50 C915.02,242.52 917.10,246.77 919.10,250.60 C921.10,254.43 923.00,257.88 925.00,261.50 C927.00,265.12 929.10,269.13 931.10,272.30 C933.10,275.47 934.98,277.88 937.00,280.50 C939.02,283.12 940.97,285.32 943.20,288.00 C945.43,290.68 947.32,292.87 950.40,296.60 C953.48,300.33 958.02,306.12 961.70,310.40 C965.38,314.68 968.88,318.87 972.50,322.30 C976.12,325.73 979.78,328.47 983.40,331.00 C987.02,333.53 990.58,335.33 994.20,337.50 C997.82,339.67 1001.48,342.20 1005.10,344.00 C1008.72,345.80 1012.28,347.03 1015.90,348.30 C1019.52,349.57 1022.78,350.52 1026.80,351.60 C1030.82,352.68 1034.47,353.70 1040.00,354.80 C1045.53,355.90 1053.33,357.28 1060.00,358.20 C1066.67,359.12 1073.33,359.70 1080.00,360.30 C1086.67,360.90 1091.67,361.35 1100.00,361.80 C1108.33,362.25 1119.17,362.70 1130.00,363.00 C1140.83,363.30 1159.17,363.50 1165.00,363.60" fill="none" stroke="#7a3fc6" stroke-width="2.0" stroke-linejoin="round"/>
<path d="M816.00,363.80 C816.47,363.50 818.00,364.13 818.80,362.00 C819.60,359.87 820.27,356.33 820.80,351.00 C821.33,345.67 821.53,338.50 822.00,330.00 C822.47,321.50 823.10,310.83 823.60,300.00 C824.10,289.17 824.45,276.67 825.00,265.00 C825.55,253.33 826.33,240.00 826.90,230.00 C827.47,220.00 827.90,212.03 828.40,205.00 C828.90,197.97 829.48,195.48 829.90,187.80 C830.32,180.12 830.45,168.53 830.90,158.90 C831.35,149.27 832.03,137.32 832.60,130.00 C833.17,122.68 833.77,120.00 834.30,115.00 C834.83,110.00 835.32,104.43 835.80,100.00 C836.28,95.57 836.67,92.75 837.20,88.40 C837.73,84.05 838.40,78.13 839.00,73.90 C839.60,69.67 840.17,65.77 840.80,63.00 C841.43,60.23 842.10,57.63 842.80,57.30 C843.50,56.97 844.27,58.23 845.00,61.00 C845.73,63.77 846.55,69.33 847.20,73.90 C847.85,78.47 848.40,83.58 848.90,88.40 C849.40,93.22 849.75,98.37 850.20,102.80 C850.65,107.23 850.97,110.47 851.60,115.00 C852.23,119.53 853.10,125.00 854.00,130.00 C854.90,135.00 856.03,137.33 857.00,145.00 C857.97,152.67 858.85,168.50 859.80,176.00 C860.75,183.50 861.83,186.17 862.70,190.00 C863.57,193.83 864.20,196.58 865.00,199.00 C865.80,201.42 866.50,203.83 867.50,204.50 C868.50,205.17 869.75,205.08 871.00,203.00 C872.25,200.92 873.50,197.17 875.00,192.00 C876.50,186.83 878.42,177.25 880.00,172.00 C881.58,166.75 883.02,162.93 884.50,160.50 C885.98,158.07 887.48,157.48 888.90,157.40 C890.32,157.32 891.48,157.90 893.00,160.00 C894.52,162.10 896.33,166.00 898.00,170.00 C899.67,174.00 901.42,179.67 903.00,184.00 C904.58,188.33 906.03,193.03 907.50,196.00 C908.97,198.97 910.38,201.38 911.80,201.80 C913.22,202.22 914.47,200.88 916.00,198.50 C917.53,196.12 919.33,191.75 921.00,187.50 C922.67,183.25 924.58,176.42 926.00,173.00 C927.42,169.58 928.45,168.22 929.50,167.00 C930.55,165.78 931.22,165.45 932.30,165.70 C933.38,165.95 934.55,166.45 936.00,168.50 C937.45,170.55 939.18,173.25 941.00,178.00 C942.82,182.75 945.53,192.03 946.90,197.00 C948.27,201.97 948.00,202.08 949.20,207.80 C950.40,213.52 952.28,222.57 954.10,231.30 C955.92,240.03 958.62,252.08 960.10,260.20 C961.58,268.32 962.03,273.37 963.00,280.00 C963.97,286.63 964.57,293.83 965.90,300.00 C967.23,306.17 969.32,311.38 971.00,317.00 C972.68,322.62 974.50,329.20 976.00,333.70 C977.50,338.20 978.73,341.18 980.00,344.00 C981.27,346.82 981.87,348.10 983.60,350.60 C985.33,353.10 988.17,357.03 990.40,359.00 C992.63,360.97 994.57,361.98 997.00,362.40 C999.43,362.82 997.83,361.73 1005.00,361.50 C1012.17,361.27 1027.50,360.83 1040.00,361.00 C1052.50,361.17 1066.67,362.08 1080.00,362.50 C1093.33,362.92 1113.33,363.33 1120.00,363.50" fill="none" stroke="#3cb371" stroke-width="2.0" stroke-linejoin="round"/>
<path d="M816.00,363.80 C816.58,363.58 818.32,363.17 819.50,362.50 C820.68,361.83 821.93,361.88 823.10,359.80 C824.27,357.72 825.27,355.57 826.50,350.00 C827.73,344.43 829.17,334.23 830.50,326.40 C831.83,318.57 833.10,311.07 834.50,303.00 C835.90,294.93 837.48,286.17 838.90,278.00 C840.32,269.83 841.60,262.00 843.00,254.00 C844.40,246.00 846.22,236.50 847.30,230.00 C848.38,223.50 848.83,220.00 849.50,215.00 C850.17,210.00 850.67,205.00 851.30,200.00 C851.93,195.00 852.60,190.00 853.30,185.00 C854.00,180.00 854.80,174.50 855.50,170.00 C856.20,165.50 856.75,162.17 857.50,158.00 C858.25,153.83 858.93,149.83 860.00,145.00 C861.07,140.17 862.73,133.17 863.90,129.00 C865.07,124.83 865.82,122.75 867.00,120.00 C868.18,117.25 869.60,114.23 871.00,112.50 C872.40,110.77 873.98,109.52 875.40,109.60 C876.82,109.68 878.23,110.85 879.50,113.00 C880.77,115.15 881.87,119.50 883.00,122.50 C884.13,125.50 885.22,128.10 886.30,131.00 C887.38,133.90 888.42,136.82 889.50,139.90 C890.58,142.98 891.72,146.25 892.80,149.50 C893.88,152.75 894.93,156.07 896.00,159.40 C897.07,162.73 898.12,166.07 899.20,169.50 C900.28,172.93 901.45,176.75 902.50,180.00 C903.55,183.25 904.50,186.25 905.50,189.00 C906.50,191.75 907.33,194.25 908.50,196.50 C909.67,198.75 910.95,200.82 912.50,202.50 C914.05,204.18 916.22,205.72 917.80,206.60 C919.38,207.48 920.38,207.60 922.00,207.80 C923.62,208.00 925.83,208.10 927.50,207.80 C929.17,207.50 930.50,206.55 932.00,206.00 C933.50,205.45 935.08,204.67 936.50,204.50 C937.92,204.33 939.20,204.50 940.50,205.00 C941.80,205.50 943.05,205.92 944.30,207.50 C945.55,209.08 946.78,212.17 948.00,214.50 C949.22,216.83 950.40,219.10 951.60,221.50 C952.80,223.90 953.80,224.85 955.20,228.90 C956.60,232.95 958.38,240.17 960.00,245.80 C961.62,251.43 963.47,257.48 964.90,262.70 C966.33,267.92 967.42,272.72 968.60,277.10 C969.78,281.48 970.77,285.18 972.00,289.00 C973.23,292.82 974.35,295.35 976.00,300.00 C977.65,304.65 979.65,311.28 981.90,316.90 C984.15,322.52 987.25,329.48 989.50,333.70 C991.75,337.92 993.02,339.38 995.40,342.20 C997.78,345.02 1000.43,348.40 1003.80,350.60 C1007.17,352.80 1011.77,354.33 1015.60,355.40 C1019.43,356.47 1022.73,356.57 1026.80,357.00 C1030.87,357.43 1032.80,357.53 1040.00,358.00 C1047.20,358.47 1060.00,359.22 1070.00,359.80 C1080.00,360.38 1090.00,361.00 1100.00,361.50 C1110.00,362.00 1118.67,362.47 1130.00,362.80 C1141.33,363.13 1161.67,363.38 1168.00,363.50" fill="none" stroke="#c0302e" stroke-width="2.0" stroke-linejoin="round"/>
<line x1="1026.8" y1="26.90" x2="1050" y2="26.90" stroke="#3cb371" stroke-width="2.0"/>
<text x="1052" y="32.20" font-family="Liberation Serif" font-size="15.8" fill="#2a2a2a" stroke="#2a2a2a">St-1000, sorption gas Ar</text>
<line x1="1026.6" y1="49.35" x2="1046" y2="49.35" stroke="#3cb371" stroke-width="2.8" stroke-dasharray="6.5,5.5"/>
<text x="1052" y="54.65" font-family="Liberation Serif" font-size="15.8" fill="#2a2a2a" stroke="#2a2a2a">St-1000-H2, sorption gas Ar</text>
<line x1="1026.8" y1="71.80" x2="1050" y2="71.80" stroke="#7a3fc6" stroke-width="2.0"/>
<text x="1052" y="77.10" font-family="Liberation Serif" font-size="15.8" fill="#2a2a2a" stroke="#2a2a2a">St-1000, sorption gas CO2</text>
<line x1="1026.6" y1="94.25" x2="1046" y2="94.25" stroke="#7a3fc6" stroke-width="2.8" stroke-dasharray="6.5,5.5"/>
<text x="1052" y="99.55" font-family="Liberation Serif" font-size="15.8" fill="#2a2a2a" stroke="#2a2a2a">St-1000-H2, sorption gas CO2</text>
<line x1="1026.8" y1="116.70" x2="1050" y2="116.70" stroke="#c0302e" stroke-width="2.0"/>
<text x="1052" y="122.00" font-family="Liberation Serif" font-size="15.8" fill="#2a2a2a" stroke="#2a2a2a">St-1000, sorption gas N2</text>
<line x1="1026.6" y1="139.15" x2="1046" y2="139.15" stroke="#e47b7b" stroke-width="2.8" stroke-dasharray="6.5,5.5"/>
<text x="1052" y="144.45" font-family="Liberation Serif" font-size="15.8" fill="#2a2a2a" stroke="#2a2a2a">St-1000-H2, sorption gas N2</text>
</g></svg></body></html>
